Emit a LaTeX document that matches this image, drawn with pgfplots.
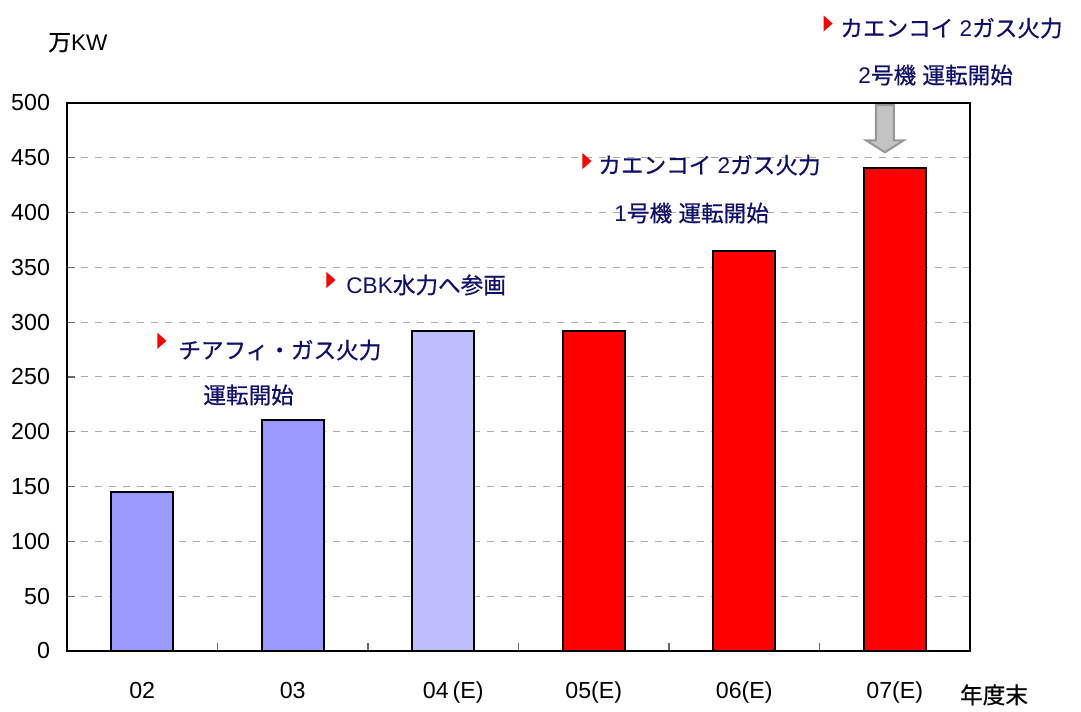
\documentclass[border=0pt]{standalone}
\usepackage{fontspec}
\setmainfont{Liberation Sans}
\newfontfamily\jp[FakeBold=0.6]{Noto Sans CJK JP}
\usepackage{pgfplots}
\pgfplotsset{compat=1.18}
\definecolor{barblue}{RGB}{153,153,255}
\definecolor{hatchblue}{RGB}{190,190,255}
\definecolor{barred}{RGB}{255,0,0}
\definecolor{navy}{RGB}{15,15,105}
\definecolor{gridgray}{RGB}{170,170,170}
% small red pointer in front of each note
\newcommand{\tri}[1]{\fill[barred] ([xshift=-2.25pt,yshift=-4pt]axis cs:#1) -- ([xshift=2.25pt]axis cs:#1) -- ([xshift=-2.25pt,yshift=4pt]axis cs:#1) -- cycle;}
\begin{document}
\begin{tikzpicture}
\begin{axis}[
  scale only axis, width=451.5pt, height=274pt,
  xmin=-0.5, xmax=5.5, ymin=0, ymax=500,
  ybar, bar width=31pt,
  ytick={0,50,...,500},
  xtick={0,...,5},
  xticklabels={02,03,\hspace{10pt}04\,(E),05(E),06(E),07(E)},
  minor xtick={0.5,1.5,...,4.5},
  major x tick style={draw=none},
  minor tick length=4pt, major tick length=4pt,
  tick style={black!60, line width=0.6pt},
  tick align=inside,
  xtick pos=bottom, ytick pos=left,
  ymajorgrids,
  grid style={gridgray, dash pattern=on 3.5pt off 3.5pt, line width=0.5pt},
  axis line style={line width=0.6pt},
  tick label style={font=\fontsize{11.6}{13}\selectfont},
  xticklabel style={yshift=-12pt},
  yticklabel style={xshift=-5pt},
  /pgf/number format/assume math mode=true,
  clip=false,
]
\addplot[bar shift=0pt, fill=barblue, draw=black, line width=1.1pt] coordinates {(0,145) (1,211)};
\addplot[bar shift=0pt, fill=hatchblue, draw=black, line width=1.1pt] coordinates {(2,292)};
\addplot[bar shift=0pt, fill=barred, draw=black, line width=1.1pt] coordinates {(3,292) (4,365) (5,441)};

\node[font=\fontsize{11.3}{13}\selectfont] at (axis cs:-0.427,555) {{\jp 万}KW};
\node[font=\fontsize{11.3}{13}\selectfont] at (axis cs:5.66,-40) {\jp 年度末};

\tri{0.131,283}
\tri{1.254,338.5}
\tri{2.955,447}
\tri{4.557,572.5}

\begin{scope}[every node/.style={font=\fontsize{11.3}{13}\selectfont, text=navy, inner sep=0pt}]
\node[anchor=west] at (axis cs:0.2375,274.6) {\jp チアフィ・ガス火力};
\node[anchor=west] at (axis cs:0.4037,233.6) {\jp 運転開始};
\node[anchor=west] at (axis cs:1.354,334) {CBK{\jp 水力へ参画}};
\node[anchor=west] at (axis cs:3.028,443.4) {{\jp カエンコイ} 2{\jp ガス火力}};
\node[anchor=west] at (axis cs:3.135,399.6) {1{\jp 号機} {\jp 運転開始}};
\node[anchor=west] at (axis cs:4.636,568.4) {{\jp カエンコイ} 2{\jp ガス火力}};
\node[anchor=west] at (axis cs:4.756,525.5) {2{\jp 号機} {\jp 運転開始}};
\end{scope}

\draw[draw={rgb,255:red,150;green,150;blue,150}, fill={rgb,255:red,195;green,195;blue,195}, line width=1pt, line join=miter]
  (axis cs:4.875,498) -- (axis cs:4.995,498) -- (axis cs:4.995,466) -- (axis cs:5.061,466)
  -- (axis cs:4.935,455) -- (axis cs:4.809,466) -- (axis cs:4.875,466) -- cycle;
\end{axis}
\path (-33.5pt,-29pt) rectangle (507pt,325.5pt);
\end{tikzpicture}
\end{document}
